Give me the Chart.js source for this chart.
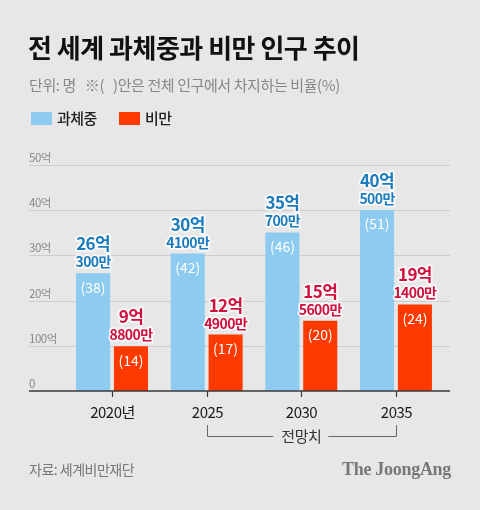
<!DOCTYPE html>
<html>
<head>
<meta charset="utf-8">
<script src="https://cdn.jsdelivr.net/npm/chart.js@4"></script>
<style>
  html, body { margin:0; padding:0; background:#e7e7e7; }
  #wrap { position:relative; width:480px; height:510px; overflow:hidden; background:#e7e7e7;
          font-family:"Noto Sans CJK KR","Noto Sans",sans-serif; }
  #chartBox { position:absolute; left:0; top:0; width:480px; height:510px; }
  .abs { position:absolute; white-space:nowrap; }
  #title { left:28px; top:28px; font-size:26px; font-weight:700; color:#111; letter-spacing:-0.5px; line-height:38px; }
  #sub { left:29px; top:75px; font-size:15px; color:#888; letter-spacing:-0.4px; line-height:20px; }
  .lg { top:108px; font-size:15px; color:#222; line-height:20px; letter-spacing:-0.5px; font-weight:500; }
  .sw { position:absolute; top:112px; width:21px; height:13px; }
  #src { left:29px; top:459px; font-size:14px; color:#777; letter-spacing:-0.5px; line-height:20px; }
  #logo { right:29px; top:457px; font-size:18px; color:#777; font-family:"Liberation Serif","DejaVu Serif",serif; font-weight:700; letter-spacing:-0.3px; line-height:24px; }
</style>
</head>
<body>
<div id="wrap">
  <div id="chartBox"><canvas id="c"></canvas></div>
  <div id="title" class="abs">전 세계 과체중과 비만 인구 추이</div>
  <div id="sub" class="abs">단위: 명 &nbsp;&nbsp;※(&nbsp;&nbsp;&nbsp;)안은 전체 인구에서 차지하는 비율(%)</div>
  <div class="sw" style="left:31px;background:#8ecbf1"></div>
  <div class="abs lg" style="left:57px">과체중</div>
  <div class="sw" style="left:119px;background:#ff3a00"></div>
  <div class="abs lg" style="left:145px">비만</div>
  <div id="src" class="abs">자료: 세계비만재단</div>
  <div id="logo" class="abs">The JoongAng</div>
</div>
<script>
// ---- data ----
const categories = ["2020년", "2025", "2030", "2035"];
const overweight = [26.03, 30.41, 35.07, 40.05];        // 억 명
const obese = [9.88, 12.49, 15.56, 19.14];              // 억 명
const overweightLabel1 = ["26억", "30억", "35억", "40억"];
const overweightLabel2 = ["300만", "4100만", "700만", "500만"];
const obeseLabel1 = ["9억", "12억", "15억", "19억"];
const obeseLabel2 = ["8800만", "4900만", "5600만", "1400만"];
const overweightPct = [38, 42, 46, 51];
const obesePct = [14, 17, 20, 24];
const yTickValues = [0, 10, 20, 30, 40, 50];
const yTickLabels = ["0", "100억", "20억", "30억", "40억", "50억"];
const forecastLabel = "전망치";

const BLUE = "#8ecbf1", RED = "#ff3a00";
const BLUE_TXT = "#1b7cbd", RED_TXT = "#d10f3c";
const FONT = '"Noto Sans CJK KR","Noto Sans",sans-serif';

const decor = {
  id: "decor",
  beforeDatasetsDraw(chart) {
    const ctx = chart.ctx, y = chart.scales.y;
    const L = 29, R = 450;
    ctx.save();
    yTickValues.forEach((v, i) => {
      const py = Math.round(y.getPixelForValue(v)) + 0.5;
      if (v !== 0) {
        ctx.strokeStyle = "#cdcdcd"; ctx.lineWidth = 1;
        ctx.beginPath(); ctx.moveTo(L, py); ctx.lineTo(R, py); ctx.stroke();
      }
      ctx.fillStyle = "#888";
      ctx.font = "11.5px " + FONT;
      ctx.letterSpacing = "-0.5px";
      ctx.textAlign = "left"; ctx.textBaseline = "alphabetic";
      ctx.fillText(yTickLabels[i], L, py - 4);
    });
    ctx.restore();
  },
  afterDatasetsDraw(chart) {
    const ctx = chart.ctx, y = chart.scales.y, x = chart.scales.x;
    const L = 29, R = 450;
    ctx.save();
    const by = y.getPixelForValue(0);
    ctx.strokeStyle = "#3a3a3a"; ctx.lineWidth = 1.5;
    ctx.beginPath(); ctx.moveTo(L, by); ctx.lineTo(R, by); ctx.stroke();
    ctx.lineWidth = 1.2;
    categories.forEach((c, i) => {
      const px = Math.round(x.getPixelForValue(i)) + 0.5;
      ctx.beginPath(); ctx.moveTo(px, by); ctx.lineTo(px, by + 6); ctx.stroke();
      ctx.fillStyle = "#1a1a1a";
      ctx.font = "15px " + FONT;
      ctx.letterSpacing = "-0.5px";
      ctx.textAlign = "center"; ctx.textBaseline = "middle";
      ctx.fillText(c, px, by + 21);
    });
    const x1 = Math.round(x.getPixelForValue(1)) + 0.5, x3 = Math.round(x.getPixelForValue(3)) + 0.5;
    const xm = x.getPixelForValue(2);
    const topY = by + 34, lineY = Math.round(by + 45) + 0.5;
    ctx.strokeStyle = "#666"; ctx.lineWidth = 1;
    ctx.beginPath();
    ctx.moveTo(x1, topY); ctx.lineTo(x1, lineY); ctx.lineTo(xm - 28, lineY);
    ctx.moveTo(xm + 27, lineY); ctx.lineTo(x3, lineY); ctx.lineTo(x3, topY);
    ctx.stroke();
    ctx.fillStyle = "#333"; ctx.font = "15px " + FONT;
    ctx.textAlign = "center"; ctx.textBaseline = "middle";
    ctx.fillText(forecastLabel, xm, lineY);

    const drawLabels = (dsIndex, l1, l2, pct, color) => {
      const meta = chart.getDatasetMeta(dsIndex);
      meta.data.forEach((bar, i) => {
        const bx = bar.x, top = bar.y;
        ctx.textAlign = "center"; ctx.textBaseline = "alphabetic";
        ctx.lineJoin = "round";
        ctx.letterSpacing = "-0.6px";
        ctx.font = "bold 17px " + FONT;
        ctx.strokeStyle = "rgba(255,255,255,0.8)"; ctx.lineWidth = 3.5;
        ctx.strokeText(l1[i], bx, top - 23);
        ctx.fillStyle = color; ctx.fillText(l1[i], bx, top - 23);
        ctx.font = "bold 14px " + FONT;
        ctx.strokeText(l2[i], bx, top - 6);
        ctx.fillText(l2[i], bx, top - 6);
        ctx.font = "14px " + FONT;
        ctx.letterSpacing = "0px";
        ctx.fillStyle = "#ffffff";
        ctx.textBaseline = "middle";
        ctx.fillText("(" + pct[i] + ")", bx, top + 14);
      });
    };
    drawLabels(0, overweightLabel1, overweightLabel2, overweightPct, BLUE_TXT);
    drawLabels(1, obeseLabel1, obeseLabel2, obesePct, RED_TXT);
    ctx.restore();
  }
};

new Chart(document.getElementById("c"), {
  type: "bar",
  data: {
    labels: categories,
    datasets: [
      { label: "과체중", data: overweight, backgroundColor: BLUE, barPercentage: 0.9, categoryPercentage: 0.8 },
      { label: "비만", data: obese, backgroundColor: RED, barPercentage: 0.9, categoryPercentage: 0.8 }
    ]
  },
  options: {
    responsive: true,
    maintainAspectRatio: false,
    animation: false,
    layout: { padding: { left: 64.7, right: 36.7, top: 165, bottom: 119 } },
    plugins: { legend: { display: false }, tooltip: { enabled: false } },
    scales: {
      x: { display: false, grid: { display: false } },
      y: { display: false, min: 0, max: 50 }
    }
  },
  plugins: [decor]
});
</script>
</body>
</html>
